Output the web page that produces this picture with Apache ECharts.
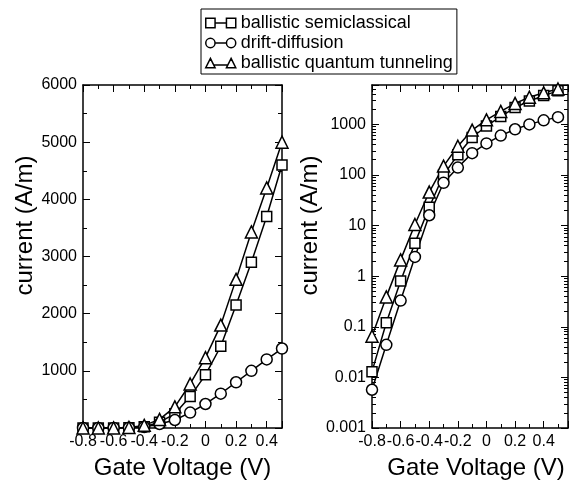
<!DOCTYPE html>
<html>
<head>
<meta charset="utf-8">
<script src="https://cdn.jsdelivr.net/npm/echarts@6/dist/echarts.min.js"></script>
<style>
html,body{margin:0;padding:0;background:#fff;}
#chart{width:569px;height:485px;}
</style>
</head>
<body>
<div id="chart"></div>
<script>
// Gate voltage (V)
var gateVoltage = [-0.8, -0.7, -0.6, -0.5, -0.4, -0.3, -0.2, -0.1, 0, 0.1, 0.2, 0.3, 0.4, 0.5];
// current (A/m)
var ballisticSemiclassical = [0.013, 0.12, 0.8, 4.5, 23, 100, 250, 550, 930, 1430, 2150, 2900, 3700, 4600];
var driftDiffusion = [0.0057, 0.044, 0.33, 2.4, 16, 70, 140, 270, 420, 600, 800, 1000, 1200, 1390];
var ballisticQuantumTunneling = [0.065, 0.39, 2.1, 10.5, 46, 150, 370, 770, 1230, 1800, 2600, 3430, 4200, 5000];
var seriesNames = ['ballistic semiclassical', 'drift-diffusion', 'ballistic quantum tunneling'];
var xAxisTitle = 'Gate Voltage (V)';
var yAxisTitle = 'current (A/m)';

var FONT = 'Liberation Sans, Arial, Helvetica, sans-serif';
var BLACK = '#000';

function pairs(arr) { return gateVoltage.map(function (v, i) { return [v, arr[i]]; }); }

var icons = {
  rect: 'path://M0.5,0.5 h9 v9 h-9 Z M9.5,5 h11 M20.5,0.5 h9 v9 h-9 Z',
  circle: 'path://M9.5,5 A4.5,4.5 0 1 1 0.5,5 A4.5,4.5 0 1 1 9.5,5 Z M9.5,5 h11 M29.5,5 A4.5,4.5 0 1 1 20.5,5 A4.5,4.5 0 1 1 29.5,5 Z',
  triangle: 'path://M5,0.5 L9.5,9.5 L0.5,9.5 Z M8.2,7 h13.6 M25,0.5 L29.5,9.5 L20.5,9.5 Z'
};

function xFmt(v) { return Math.abs(v) < 1e-9 ? '0' : v.toFixed(1); }
function yFmt(v) { return String(Number(Number(v).toPrecision(6))); }

function xAxisDef(gridIndex, max, top, nameOpts) {
  return {
    gridIndex: gridIndex, type: 'value', min: -0.8, max: max, interval: 0.2,
    position: top ? 'top' : 'bottom',
    axisLine: { show: true, onZero: false, lineStyle: { color: BLACK, width: 1.5 } },
    axisTick: { show: true, inside: true, length: 7, lineStyle: { color: BLACK, width: 1 } },
    minorTick: { show: true, splitNumber: 2, length: 4, lineStyle: { color: BLACK, width: 1 } },
    splitLine: { show: false }, minorSplitLine: { show: false },
    axisLabel: { show: !top, showMaxLabel: false, showMinLabel: true, color: BLACK, fontSize: 16, fontFamily: FONT, margin: 6, formatter: xFmt },
    name: top ? '' : xAxisTitle,
    nameLocation: 'middle', nameGap: 28,
    nameTextStyle: Object.assign({ color: BLACK, fontSize: 24, fontFamily: FONT }, nameOpts || {})
  };
}

function yAxisDef(gridIndex, isLog, right, nameGap) {
  var a = {
    gridIndex: gridIndex,
    position: right ? 'right' : 'left',
    axisLine: { show: true, onZero: false, lineStyle: { color: BLACK, width: 1.5 } },
    axisTick: { show: true, inside: true, length: 7, lineStyle: { color: BLACK, width: 1 } },
    splitLine: { show: false }, minorSplitLine: { show: false },
    axisLabel: { show: !right, showMaxLabel: !isLog, showMinLabel: isLog, color: BLACK, fontSize: 16, fontFamily: FONT, margin: 6, formatter: yFmt },
    name: right ? '' : yAxisTitle,
    nameLocation: 'middle', nameGap: nameGap,
    nameTextStyle: { color: BLACK, fontSize: 24, fontFamily: FONT, padding: [0, 0, 0, 62] }
  };
  if (isLog) {
    a.type = 'log'; a.logBase = 10; a.min = 0.001; a.max = 6000; a.splitNumber = 7;
    a.minorTick = { show: true, splitNumber: 9, length: 4, lineStyle: { color: BLACK, width: 1 } };
  } else {
    a.type = 'value'; a.min = 0; a.max = 6000; a.interval = 1000;
    a.minorTick = { show: true, splitNumber: 2, length: 4, lineStyle: { color: BLACK, width: 1 } };
  }
  return a;
}

var seriesDefs = [
  { name: seriesNames[0], data: ballisticSemiclassical, symbol: 'rect', size: 10 },
  { name: seriesNames[1], data: driftDiffusion, symbol: 'circle', size: 11 },
  { name: seriesNames[2], data: ballisticQuantumTunneling, symbol: 'triangle', size: 12 }
];

var series = [];
[0, 1].forEach(function (g) {
  seriesDefs.forEach(function (s) {
    series.push({
      type: 'line', name: s.name, xAxisIndex: g * 2, yAxisIndex: g * 2,
      data: pairs(s.data),
      symbol: s.symbol, symbolSize: s.size, showAllSymbol: true,
      lineStyle: { color: BLACK, width: 1.5 },
      itemStyle: { color: '#fff', borderColor: BLACK, borderWidth: 1.5 },
      emphasis: { disabled: true },
      z: 3
    });
  });
});

var chart = echarts.init(document.getElementById('chart'), null, { renderer: 'canvas' });
chart.setOption({
  animation: false,
  backgroundColor: '#fff',
  textStyle: { fontFamily: FONT, color: BLACK },
  legend: {
    orient: 'vertical', left: 201, top: 9,
    padding: [5, 4, 2, 4], itemGap: 2,
    itemWidth: 30, itemHeight: 10,
    borderColor: BLACK, borderWidth: 1,
    selectedMode: false,
    textStyle: { color: BLACK, fontSize: 18, fontFamily: FONT },
    data: [
      { name: seriesNames[0], icon: icons.rect },
      { name: seriesNames[1], icon: icons.circle },
      { name: seriesNames[2], icon: icons.triangle }
    ],
    itemStyle: { color: '#fff', borderColor: BLACK, borderWidth: 1.5 }
  },
  grid: [
    { left: 83, top: 85, width: 199, height: 350, containLabel: false },
    { left: 372, top: 85, width: 196, height: 350, containLabel: false }
  ],
  xAxis: [
    xAxisDef(0, 0.5, false),
    xAxisDef(0, 0.5, true),
    xAxisDef(1, 0.57, false, { padding: [0, 0, 0, 12] }),
    xAxisDef(1, 0.57, true)
  ],
  yAxis: [
    yAxisDef(0, false, false, 31),
    yAxisDef(0, false, true, 0),
    yAxisDef(1, true, false, 35),
    yAxisDef(1, true, true, 0)
  ],
  series: series
});
</script>
</body>
</html>
